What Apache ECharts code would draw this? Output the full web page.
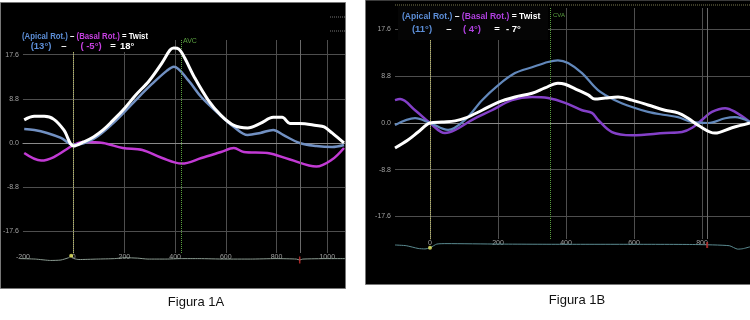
<!DOCTYPE html>
<html><head><meta charset="utf-8">
<script src="https://cdn.jsdelivr.net/npm/echarts@6/dist/echarts.min.js"></script>
<style>html,body{margin:0;padding:0;background:#fff}#c{width:750px;height:320px}</style>
</head><body><div id="c"></div>
<script>
// ---------- Figura 1A ----------
const aTwistT = [-195,-155,-116,-78,-39,0,39,78,116,155,194,244,298,349,380,395,415,438,477,531,581,632,686,736,787,822,853,891,957,988,1019,1066];
const aTwistV = [4.6,5.3,5.3,4.7,2.6,-0.6,0.2,1.2,2.6,4.5,6.5,9.5,12.4,16.0,18.5,18.9,18.7,16.9,13.0,8.5,5.5,3.5,3.0,3.9,5.1,5.1,3.9,3.9,3.5,3.2,2.0,0.0];
const aApicalT = [-195,-155,-105,-50,0,78,155,244,310,368,395,453,504,570,632,686,736,787,826,891,957,1019,1066];
const aApicalV = [2.8,2.6,2.0,1.0,-0.4,0.8,3.9,8.5,11.8,14.4,15.2,12.4,9.1,5.9,3.2,1.6,2.0,2.6,1.6,0.0,-0.6,-0.8,-0.4];
const aBasalT = [-195,-128,-78,0,39,116,194,271,349,426,504,581,632,671,764,853,957,1019,1066];
const aBasalV = [-2.0,-3.5,-2.8,-0.4,0.2,0.0,-1.0,-1.4,-3.0,-4.1,-3.0,-1.8,-1.0,-1.8,-2.0,-3.3,-4.7,-3.3,-1.0];
const aEcgT = [-200,-140,-80,-40,-10,0,12,30,100,170,210,260,300,370,430,500,600,700,800,880,893,905,1000,1070];
const aEcgV = [0.4,0.3,0.0,0.1,0.6,1.0,0.4,0.2,0.3,0.4,0.6,0.5,0.3,0.3,0.4,0.4,0.3,0.3,0.4,0.3,0.1,0.3,0.4,0.4];
const aEvents = {start: 0, avc: 425, end: 893};
const aValues = {apical: '(13°)', basal: '( -5°)', twist: '18°'};

// ---------- Figura 1B ----------
const bTwistT = [-103,-65,-35,0,35,74,103,153,200,250,300,338,376,397,435,465,485,515,553,594,641,691,729,759,788,838,888,941];
const bTwistV = [-4.7,-3.2,-1.7,0.0,0.2,0.4,0.9,2.4,3.9,4.9,5.6,6.6,7.5,7.3,6.2,5.3,4.5,4.7,4.9,4.3,3.4,2.4,1.9,0.9,-0.4,-1.9,-0.9,0.0];
const bApicalT = [-103,-44,0,53,103,153,200,250,300,347,376,406,447,494,544,594,641,691,729,771,818,868,897,941];
const bApicalV = [-0.4,0.9,0.0,-1.3,0.6,4.3,7.1,9.4,10.5,11.5,11.8,11.3,9.4,6.2,4.3,3.0,2.1,1.5,1.1,0.2,0.0,0.9,1.1,0.2];
const bBasalT = [-103,-88,-44,0,44,74,124,182,241,300,347,397,447,476,494,535,594,691,741,771,800,829,868,897,941];
const bBasalV = [4.3,4.5,2.4,0.0,-1.9,-1.3,0.6,2.4,4.3,4.9,4.7,3.8,2.4,1.9,0.6,-1.7,-2.3,-1.9,-1.7,-0.9,0.6,2.1,2.8,2.1,0.2];
const bEcgT = [-103,-70,-35,-15,0,20,50,200,400,600,780,880,905,920,941];
const bEcgV = [0.0,-0.3,-1.5,-1.7,-1.2,0.4,0.6,0.4,0.3,0.3,0.2,-0.3,-1.8,-1.6,-0.8];
const bEvents = {start: 0, cva: 353, end: 815};
const bValues = {apical: '(11°)', basal: '( 4°)', twist: '- 7°'};

const yTicks = [-17.6, -8.8, 0, 8.8, 17.6];
const xTicksA = [-200, 0, 200, 400, 600, 800, 1000];
const xTicksB = [0, 200, 400, 600, 800];

const zip = (t, v) => t.map((x, i) => [x, v[i]]);
const GRIDC = '#4e4e4e';
const LBL = '#a0a0a0';

function xAxisMain(grid, min, max, ticks) {
  return {type:'value', gridIndex:grid, min:min, max:max, minInterval:200, maxInterval:200,
    axisLine:{show:true, lineStyle:{color:'#8a8a8a', width:1}},
    axisTick:{show:false},
    axisLabel:{show:true, color:LBL, fontSize:7, margin:1, fontFamily:'Liberation Sans',
      showMinLabel: ticks.indexOf(min) >= 0, showMaxLabel:false,
      formatter:v => ticks.indexOf(Math.round(v)) >= 0 ? String(Math.round(v)) : ''},
    splitLine:{show:true, showMinLine:false, showMaxLine:false, lineStyle:{color:GRIDC, width:1}}};
}
function yAxisMain(grid, min, max) {
  return {type:'value', gridIndex:grid, min:min, max:max, minInterval:8.8, maxInterval:8.8,
    axisLine:{show:true, lineStyle:{color:'#707070', width:1}},
    axisTick:{show:false},
    axisLabel:{color:LBL, fontSize:7, margin:4, fontFamily:'Liberation Sans',
      showMinLabel:false, showMaxLabel:false,
      formatter:v => yTicks.some(t => Math.abs(t - v) < 1e-6) ? v.toFixed(1) : ''},
    splitLine:{show:true, showMinLine:false, showMaxLine:false, lineStyle:{color:GRIDC, width:1}}};
}
function stripX(grid, min, max) {
  return {type:'value', gridIndex:grid, min:min, max:max, show:false};
}
function stripY(grid, min, max) {
  return {type:'value', gridIndex:grid, min:min, max:max, show:false};
}
function vLine(x, color, type, width) {
  return {xAxis:x, lineStyle:{color:color, type:type, width:width}};
}
const lineS = (name, xi, yi, data, color, width, z, extra) => Object.assign({
  type:'line', name:name, xAxisIndex:xi, yAxisIndex:yi, data:data, showSymbol:false, symbol:'none',
  smooth:0.35, lineStyle:{color:color, width:width}, z:z, silent:true, animation:false}, extra || {});

const chart = echarts.init(document.getElementById('c'), null, {renderer:'canvas'});
const FF = 'Liberation Sans, Arial, sans-serif';
const bold = {fontFamily:FF, fontWeight:'bold', fontSize:9.5};
const BLUE_T = '#5d8fd8', MAG_T = '#c640e0', MAG_TB = '#b040e0';
const mkRich = m => ({
  b:Object.assign({fill:BLUE_T}, bold),
  m:Object.assign({fill:m}, bold),
  w:Object.assign({fill:'#ffffff'}, bold)
});
const txt = (x, y, s, fill, align) => ({type:'text', x:x, y:y, z:50, silent:true,
  style:Object.assign({text:s, fill:fill, align:align || 'center', verticalAlign:'middle'}, bold)});

chart.setOption({
  backgroundColor:'#ffffff',
  animation:false,
  grid:[
    {left:20, right:405, top:40, bottom:67},
    {left:395, right:0, top:8, bottom:81},
    {left:20, right:405, top:254, height:12},
    {left:395, right:0, top:239, height:12}
  ],
  xAxis:[
    xAxisMain(0, -200, 1070, xTicksA),
    xAxisMain(1, -103, 941, xTicksB),
    stripX(2, -200, 1070),
    stripX(3, -103, 941)
  ],
  yAxis:[
    yAxisMain(0, -21.9, 20.5),
    yAxisMain(1, -21.85, 21.66),
    stripY(2, -1.2, 1.4),
    stripY(3, -2.6, 2.6)
  ],
  graphic:[
    {type:'rect', shape:{x:0.5, y:2.5, width:345, height:286}, style:{fill:'#000', stroke:'#777', lineWidth:1}, z:-10, silent:true},
    {type:'rect', shape:{x:365.5, y:0, width:385, height:284.5}, style:{fill:'#000', stroke:'#777', lineWidth:1}, z:-10, silent:true},
    {type:'rect', shape:{x:21, y:28, width:130, height:24}, style:{fill:'#000'}, z:10, silent:true},
    {type:'rect', shape:{x:398, y:6, width:150, height:34}, style:{fill:'#050505'}, z:10, silent:true},
    {type:'line', shape:{x1:330, y1:17, x2:345, y2:17}, style:{stroke:'#777', lineDash:[1,1], lineWidth:1}, silent:true},
    {type:'line', shape:{x1:330, y1:31, x2:345, y2:31}, style:{stroke:'#777', lineDash:[1,1], lineWidth:1}, silent:true},
    {type:'line', shape:{x1:395, y1:5, x2:750, y2:5}, style:{stroke:'#7a7a50', lineDash:[1,1], lineWidth:1}, silent:true},
    // Figura 1A header
    {type:'text', x:22, y:36, z:50, scaleX:0.82, silent:true, style:{text:'{b|(Apical Rot.)}{w| – }{m|(Basal Rot.)}{w| = Twist}', rich:mkRich(MAG_T), verticalAlign:'middle'}},
    txt(41, 46, aValues.apical, BLUE_T),
    txt(64, 46, '–', '#ffffff'),
    txt(91, 46, aValues.basal, MAG_T),
    txt(113, 46, '=', '#ffffff'),
    txt(120, 46, aValues.twist, '#ffffff', 'left'),
    {type:'text', x:183, y:41, z:50, style:{text:'AVC', fill:'#5aa040', fontSize:7, fontFamily:'Liberation Sans', verticalAlign:'middle'}},
    // Figura 1B header
    {type:'text', x:402, y:16, z:50, scaleX:0.9, silent:true, style:{text:'{b|(Apical Rot.)}{w| – }{m|(Basal Rot.)}{w| = Twist}', rich:mkRich(MAG_TB), verticalAlign:'middle'}},
    txt(422, 29, bValues.apical, BLUE_T),
    txt(449, 29, '–', '#ffffff'),
    txt(472, 29, bValues.basal, MAG_TB),
    txt(497, 29, '=', '#ffffff'),
    txt(506, 29, bValues.twist, '#ffffff', 'left'),
    {type:'text', x:553, y:15, z:50, style:{text:'CVA', fill:'#5aa040', fontSize:6, fontFamily:'Liberation Sans', verticalAlign:'middle'}},
    {type:'text', x:196, y:302, style:{text:'Figura 1A', fill:'#111', fontSize:13, fontFamily:'Liberation Sans', align:'center', verticalAlign:'middle'}},
    {type:'text', x:577, y:300, style:{text:'Figura 1B', fill:'#111', fontSize:13, fontFamily:'Liberation Sans', align:'center', verticalAlign:'middle'}}
  ],
  series:[
    lineS('Basal A', 0, 0, zip(aBasalT, aBasalV), '#c23ad4', 2.5, 3, {
      markLine:{silent:true, symbol:'none', label:{show:false}, data:[
        vLine(aEvents.start, '#b8b860', 'dotted', 1),
        vLine(aEvents.avc, '#5aa040', 'dotted', 1),
        vLine(aEvents.end, '#6a6a6a', 'solid', 1)
      ]}}),
    lineS('Apical A', 0, 0, zip(aApicalT, aApicalV), '#7190c2', 2.5, 4),
    lineS('Twist A', 0, 0, zip(aTwistT, aTwistV), '#ffffff', 3, 5),
    lineS('Basal B', 1, 1, zip(bBasalT, bBasalV), '#8440c8', 2.5, 3, {
      markLine:{silent:true, symbol:'none', label:{show:false}, data:[
        vLine(bEvents.start, '#b8b860', 'dotted', 1),
        vLine(bEvents.cva, '#5aa040', 'dotted', 1),
        vLine(bEvents.end, '#6a6a6a', 'solid', 1)
      ]}}),
    lineS('Apical B', 1, 1, zip(bApicalT, bApicalV), '#6288bb', 2.2, 4),
    lineS('Twist B', 1, 1, zip(bTwistT, bTwistV), '#ffffff', 3, 5),
    lineS('ECG A', 2, 2, zip(aEcgT, aEcgV), '#8a9a90', 1, 3, {smooth:0.2}),
    lineS('ECG B', 3, 3, zip(bEcgT, bEcgV), '#5a8a90', 1, 3, {smooth:0.2}),
    {type:'scatter', xAxisIndex:2, yAxisIndex:2, data:[[aEvents.start, 1.0]], symbolSize:4, itemStyle:{color:'#e8e860'}, z:6, silent:true},
    {type:'scatter', xAxisIndex:2, yAxisIndex:2, data:[[aEvents.end, 0.1]], symbol:'rect', symbolSize:[1.5,7], itemStyle:{color:'#d03030'}, z:6, silent:true},
    {type:'scatter', xAxisIndex:3, yAxisIndex:3, data:[[bEvents.start, -1.2]], symbolSize:4, itemStyle:{color:'#e8e860'}, z:6, silent:true},
    {type:'scatter', xAxisIndex:3, yAxisIndex:3, data:[[bEvents.end, 0.0]], symbol:'rect', symbolSize:[2,6], itemStyle:{color:'#c03030'}, z:6, silent:true}
  ]
});
</script></body></html>
